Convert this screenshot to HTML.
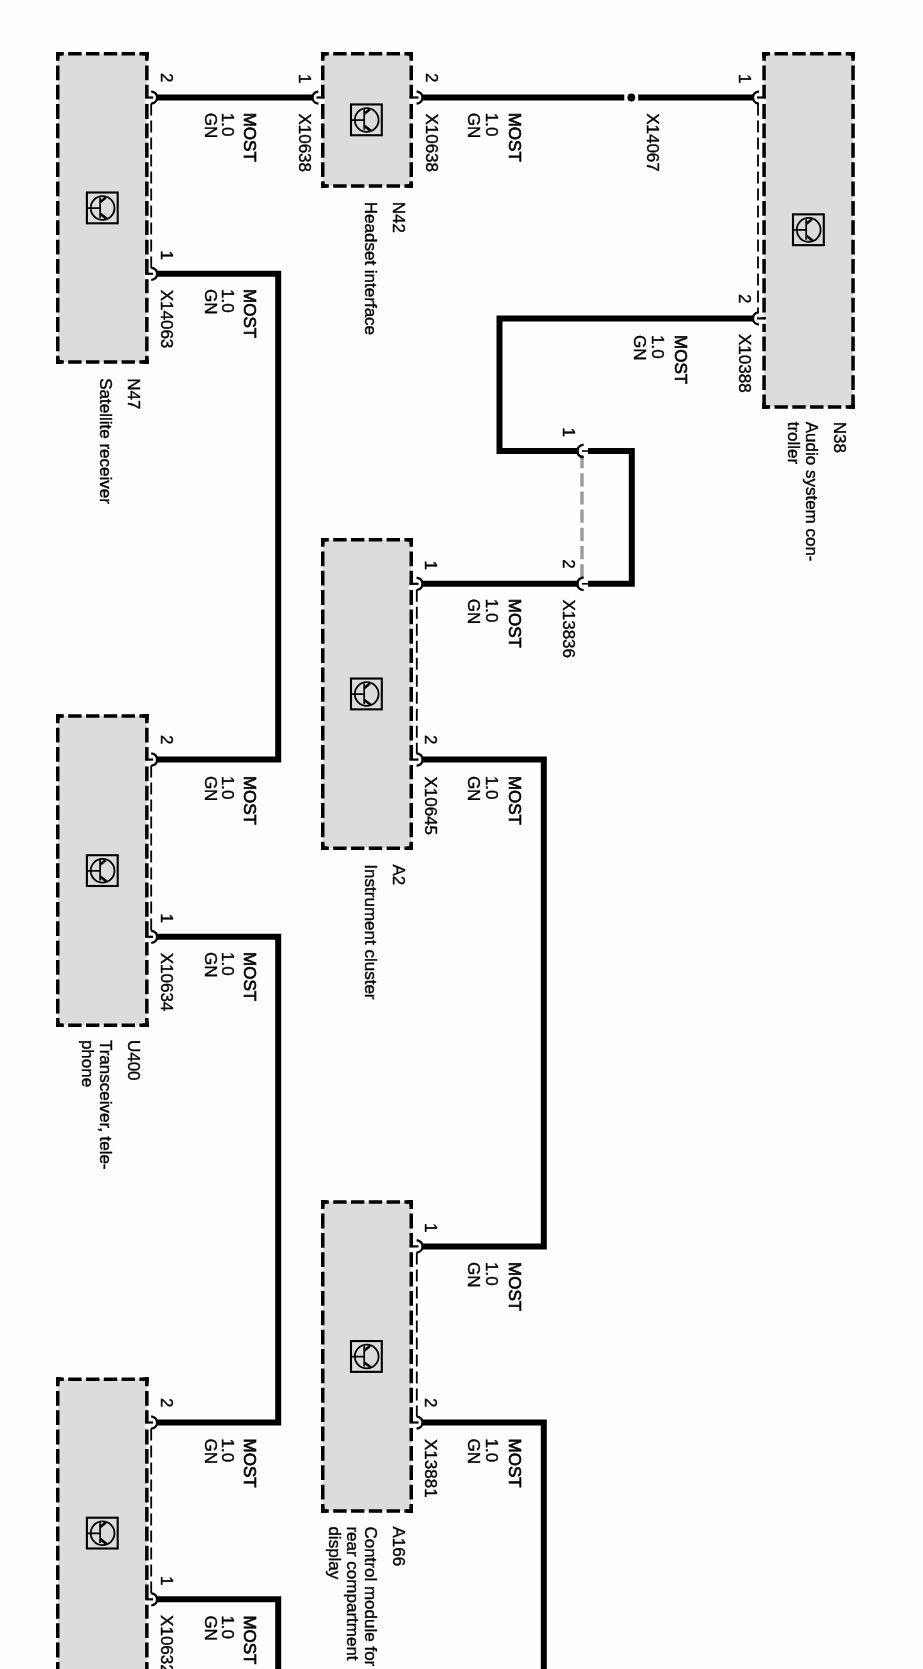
<!DOCTYPE html>
<html><head><meta charset="utf-8"><title>MOST bus wiring diagram</title>
<style>
html,body{margin:0;padding:0;background:#fefefe;}
body{width:923px;height:1669px;overflow:hidden;font-family:"Liberation Sans",sans-serif;}
svg{display:block;}
</style></head><body>
<svg width="923" height="1669" viewBox="0 0 923 1669">
<defs><filter id="soft" x="0" y="0" width="100%" height="100%" filterUnits="userSpaceOnUse"><feGaussianBlur stdDeviation="0.45"/></filter></defs>
<rect width="923" height="1669" fill="#fefefe"/>
<g filter="url(#soft)">
<rect x="57.75" y="53.75" width="89.1" height="308.3" fill="#dcdcdc"/>
<g stroke="#000" stroke-width="3.5" fill="none">
<line x1="57.75" y1="52" x2="57.75" y2="363.8" stroke-dasharray="14.8 4.56" stroke-dashoffset="5.96"/>
<line x1="146.85" y1="52" x2="146.85" y2="363.8" stroke-dasharray="14.8 4.56" stroke-dashoffset="5.96"/>
<line x1="56" y1="53.75" x2="148.6" y2="53.75" stroke-dasharray="13.4 4.4" stroke-dashoffset="5.6"/>
<line x1="56" y1="362.05" x2="148.6" y2="362.05" stroke-dasharray="13.4 4.4" stroke-dashoffset="5.6"/>
</g>
<g fill="#000">
<rect x="56" y="52" width="6" height="3.5"/>
<rect x="56" y="52" width="3.5" height="6"/>
<rect x="142.6" y="52" width="6" height="3.5"/>
<rect x="145.1" y="52" width="3.5" height="6"/>
<rect x="56" y="360.3" width="6" height="3.5"/>
<rect x="56" y="357.8" width="3.5" height="6"/>
<rect x="142.6" y="360.3" width="6" height="3.5"/>
<rect x="145.1" y="357.8" width="3.5" height="6"/>
</g>
<g stroke="#000" fill="none" stroke-linecap="butt">
<rect x="86.89999999999999" y="192.5" width="30.8" height="30.8" stroke-width="2.1"/>
<circle cx="102.6" cy="208.0" r="11.9" stroke-width="1.8"/>
<path d="M100.1 197.4V217.9M86.89999999999999 208.1H100.1" stroke-width="1.7"/>
<path d="M100.3 201.9L105.8 197.4M100.3 213.9L106.8 218.9" stroke-width="2.6"/>
</g>
<rect x="322.75" y="53.75" width="88.5" height="132.2" fill="#dcdcdc"/>
<g stroke="#000" stroke-width="3.5" fill="none">
<line x1="322.75" y1="52" x2="322.75" y2="187.7" stroke-dasharray="14.8 4.56" stroke-dashoffset="5.96"/>
<line x1="411.25" y1="52" x2="411.25" y2="187.7" stroke-dasharray="14.8 4.56" stroke-dashoffset="5.96"/>
<line x1="321" y1="53.75" x2="413" y2="53.75" stroke-dasharray="13.4 4.4" stroke-dashoffset="5.6"/>
<line x1="321" y1="185.95" x2="413" y2="185.95" stroke-dasharray="13.4 4.4" stroke-dashoffset="5.6"/>
</g>
<g fill="#000">
<rect x="321" y="52" width="6" height="3.5"/>
<rect x="321" y="52" width="3.5" height="6"/>
<rect x="407" y="52" width="6" height="3.5"/>
<rect x="409.5" y="52" width="3.5" height="6"/>
<rect x="321" y="184.2" width="6" height="3.5"/>
<rect x="321" y="181.7" width="3.5" height="6"/>
<rect x="407" y="184.2" width="6" height="3.5"/>
<rect x="409.5" y="181.7" width="3.5" height="6"/>
</g>
<g stroke="#000" fill="none" stroke-linecap="butt">
<rect x="351.0" y="104.44999999999999" width="30.8" height="30.8" stroke-width="2.1"/>
<circle cx="366.7" cy="119.94999999999999" r="11.9" stroke-width="1.8"/>
<path d="M364.2 109.35V129.85M351.0 120.05H364.2" stroke-width="1.7"/>
<path d="M364.4 113.85L369.9 109.35M364.4 125.85L370.9 130.85" stroke-width="2.6"/>
</g>
<rect x="764.05" y="53.75" width="89.0" height="353.2" fill="#dcdcdc"/>
<g stroke="#000" stroke-width="3.5" fill="none">
<line x1="764.05" y1="52" x2="764.05" y2="408.7" stroke-dasharray="14.8 4.56" stroke-dashoffset="5.96"/>
<line x1="853.05" y1="52" x2="853.05" y2="408.7" stroke-dasharray="14.8 4.56" stroke-dashoffset="5.96"/>
<line x1="762.3" y1="53.75" x2="854.8" y2="53.75" stroke-dasharray="13.4 4.4" stroke-dashoffset="5.6"/>
<line x1="762.3" y1="406.95" x2="854.8" y2="406.95" stroke-dasharray="13.4 4.4" stroke-dashoffset="5.6"/>
</g>
<g fill="#000">
<rect x="762.3" y="52" width="6" height="3.5"/>
<rect x="762.3" y="52" width="3.5" height="6"/>
<rect x="848.8" y="52" width="6" height="3.5"/>
<rect x="851.3" y="52" width="3.5" height="6"/>
<rect x="762.3" y="405.2" width="6" height="3.5"/>
<rect x="762.3" y="402.7" width="3.5" height="6"/>
<rect x="848.8" y="405.2" width="6" height="3.5"/>
<rect x="851.3" y="402.7" width="3.5" height="6"/>
</g>
<g stroke="#000" fill="none" stroke-linecap="butt">
<rect x="793.0" y="214.35" width="30.8" height="30.8" stroke-width="2.1"/>
<circle cx="808.6999999999999" cy="229.85" r="11.9" stroke-width="1.8"/>
<path d="M806.1999999999999 219.25V239.75M793.0 229.95H806.1999999999999" stroke-width="1.7"/>
<path d="M806.4 223.75L811.9 219.25M806.4 235.75L812.9 240.75" stroke-width="2.6"/>
</g>
<rect x="57.75" y="716.05" width="89.1" height="309.10000000000014" fill="#dcdcdc"/>
<g stroke="#000" stroke-width="3.5" fill="none">
<line x1="57.75" y1="714.3" x2="57.75" y2="1026.9" stroke-dasharray="14.8 4.56" stroke-dashoffset="5.96"/>
<line x1="146.85" y1="714.3" x2="146.85" y2="1026.9" stroke-dasharray="14.8 4.56" stroke-dashoffset="5.96"/>
<line x1="56" y1="716.05" x2="148.6" y2="716.05" stroke-dasharray="13.4 4.4" stroke-dashoffset="5.6"/>
<line x1="56" y1="1025.15" x2="148.6" y2="1025.15" stroke-dasharray="13.4 4.4" stroke-dashoffset="5.6"/>
</g>
<g fill="#000">
<rect x="56" y="714.3" width="6" height="3.5"/>
<rect x="56" y="714.3" width="3.5" height="6"/>
<rect x="142.6" y="714.3" width="6" height="3.5"/>
<rect x="145.1" y="714.3" width="3.5" height="6"/>
<rect x="56" y="1023.4000000000001" width="6" height="3.5"/>
<rect x="56" y="1020.9000000000001" width="3.5" height="6"/>
<rect x="142.6" y="1023.4000000000001" width="6" height="3.5"/>
<rect x="145.1" y="1020.9000000000001" width="3.5" height="6"/>
</g>
<g stroke="#000" fill="none" stroke-linecap="butt">
<rect x="86.89999999999999" y="855.2" width="30.8" height="30.8" stroke-width="2.1"/>
<circle cx="102.6" cy="870.7" r="11.9" stroke-width="1.8"/>
<path d="M100.1 860.1V880.6M86.89999999999999 870.8000000000001H100.1" stroke-width="1.7"/>
<path d="M100.3 864.6L105.8 860.1M100.3 876.6L106.8 881.6" stroke-width="2.6"/>
</g>
<rect x="322.75" y="539.75" width="88.5" height="308.4" fill="#dcdcdc"/>
<g stroke="#000" stroke-width="3.5" fill="none">
<line x1="322.75" y1="538" x2="322.75" y2="849.9" stroke-dasharray="14.8 4.56" stroke-dashoffset="5.96"/>
<line x1="411.25" y1="538" x2="411.25" y2="849.9" stroke-dasharray="14.8 4.56" stroke-dashoffset="5.96"/>
<line x1="321" y1="539.75" x2="413" y2="539.75" stroke-dasharray="13.4 4.4" stroke-dashoffset="5.6"/>
<line x1="321" y1="848.15" x2="413" y2="848.15" stroke-dasharray="13.4 4.4" stroke-dashoffset="5.6"/>
</g>
<g fill="#000">
<rect x="321" y="538" width="6" height="3.5"/>
<rect x="321" y="538" width="3.5" height="6"/>
<rect x="407" y="538" width="6" height="3.5"/>
<rect x="409.5" y="538" width="3.5" height="6"/>
<rect x="321" y="846.4" width="6" height="3.5"/>
<rect x="321" y="843.9" width="3.5" height="6"/>
<rect x="407" y="846.4" width="6" height="3.5"/>
<rect x="409.5" y="843.9" width="3.5" height="6"/>
</g>
<g stroke="#000" fill="none" stroke-linecap="butt">
<rect x="351.0" y="678.5500000000001" width="30.8" height="30.8" stroke-width="2.1"/>
<circle cx="366.7" cy="694.0500000000001" r="11.9" stroke-width="1.8"/>
<path d="M364.2 683.45V703.95M351.0 694.1500000000001H364.2" stroke-width="1.7"/>
<path d="M364.4 687.95L369.9 683.45M364.4 699.95L370.9 704.95" stroke-width="2.6"/>
</g>
<rect x="322.75" y="1201.95" width="88.5" height="309.0" fill="#dcdcdc"/>
<g stroke="#000" stroke-width="3.5" fill="none">
<line x1="322.75" y1="1200.2" x2="322.75" y2="1512.7" stroke-dasharray="14.8 4.56" stroke-dashoffset="5.96"/>
<line x1="411.25" y1="1200.2" x2="411.25" y2="1512.7" stroke-dasharray="14.8 4.56" stroke-dashoffset="5.96"/>
<line x1="321" y1="1201.95" x2="413" y2="1201.95" stroke-dasharray="13.4 4.4" stroke-dashoffset="5.6"/>
<line x1="321" y1="1510.95" x2="413" y2="1510.95" stroke-dasharray="13.4 4.4" stroke-dashoffset="5.6"/>
</g>
<g fill="#000">
<rect x="321" y="1200.2" width="6" height="3.5"/>
<rect x="321" y="1200.2" width="3.5" height="6"/>
<rect x="407" y="1200.2" width="6" height="3.5"/>
<rect x="409.5" y="1200.2" width="3.5" height="6"/>
<rect x="321" y="1509.2" width="6" height="3.5"/>
<rect x="321" y="1506.7" width="3.5" height="6"/>
<rect x="407" y="1509.2" width="6" height="3.5"/>
<rect x="409.5" y="1506.7" width="3.5" height="6"/>
</g>
<g stroke="#000" fill="none" stroke-linecap="butt">
<rect x="351.0" y="1341.05" width="30.8" height="30.8" stroke-width="2.1"/>
<circle cx="366.7" cy="1356.55" r="11.9" stroke-width="1.8"/>
<path d="M364.2 1345.95V1366.45M351.0 1356.65H364.2" stroke-width="1.7"/>
<path d="M364.4 1350.45L369.9 1345.95M364.4 1362.45L370.9 1367.45" stroke-width="2.6"/>
</g>
<rect x="57.75" y="1379.25" width="89.1" height="307.70000000000005" fill="#dcdcdc"/>
<g stroke="#000" stroke-width="3.5" fill="none">
<line x1="57.75" y1="1377.5" x2="57.75" y2="1688.7" stroke-dasharray="14.8 4.56" stroke-dashoffset="5.96"/>
<line x1="146.85" y1="1377.5" x2="146.85" y2="1688.7" stroke-dasharray="14.8 4.56" stroke-dashoffset="5.96"/>
<line x1="56" y1="1379.25" x2="148.6" y2="1379.25" stroke-dasharray="13.4 4.4" stroke-dashoffset="5.6"/>
<line x1="56" y1="1686.95" x2="148.6" y2="1686.95" stroke-dasharray="13.4 4.4" stroke-dashoffset="5.6"/>
</g>
<g fill="#000">
<rect x="56" y="1377.5" width="6" height="3.5"/>
<rect x="56" y="1377.5" width="3.5" height="6"/>
<rect x="142.6" y="1377.5" width="6" height="3.5"/>
<rect x="145.1" y="1377.5" width="3.5" height="6"/>
<rect x="56" y="1685.2" width="6" height="3.5"/>
<rect x="56" y="1682.7" width="3.5" height="6"/>
<rect x="142.6" y="1685.2" width="6" height="3.5"/>
<rect x="145.1" y="1682.7" width="3.5" height="6"/>
</g>
<g stroke="#000" fill="none" stroke-linecap="butt">
<rect x="86.89999999999999" y="1517.6999999999998" width="30.8" height="30.8" stroke-width="2.1"/>
<circle cx="102.6" cy="1533.1999999999998" r="11.9" stroke-width="1.8"/>
<path d="M100.1 1522.6V1543.1M86.89999999999999 1533.3H100.1" stroke-width="1.7"/>
<path d="M100.3 1527.1L105.8 1522.6M100.3 1539.1L106.8 1544.1" stroke-width="2.6"/>
</g>
<path d="M157 97.5H313" stroke="#000" stroke-width="6.0" fill="none" stroke-linejoin="miter"/>
<path d="M422 97.5H624.3" stroke="#000" stroke-width="6.0" fill="none" stroke-linejoin="miter"/>
<path d="M638.2 97.5H753.2" stroke="#000" stroke-width="6.0" fill="none" stroke-linejoin="miter"/>
<circle cx="631.3" cy="97.5" r="3.9" fill="#000"/>
<path d="M753.2 318.4H499.5V451H577.4" stroke="#000" stroke-width="6.0" fill="none" stroke-linejoin="miter"/>
<path d="M588 451H631.8V583.8H588" stroke="#000" stroke-width="6.0" fill="none" stroke-linejoin="miter"/>
<path d="M577.4 583.8H422" stroke="#000" stroke-width="6.0" fill="none" stroke-linejoin="miter"/>
<path d="M422 759.6H543.8V1246.4H422" stroke="#000" stroke-width="6.0" fill="none" stroke-linejoin="miter"/>
<path d="M422 1422.5H543.8V1700" stroke="#000" stroke-width="6.0" fill="none" stroke-linejoin="miter"/>
<path d="M157 273.8H278.2V759.6H157" stroke="#000" stroke-width="6.0" fill="none" stroke-linejoin="miter"/>
<path d="M157 936.8H278.2V1422.5H157" stroke="#000" stroke-width="6.0" fill="none" stroke-linejoin="miter"/>
<path d="M157 1599.3H278.2V1700" stroke="#000" stroke-width="6.0" fill="none" stroke-linejoin="miter"/>
<line x1="582" y1="455" x2="582" y2="579" stroke="#9a9a9a" stroke-width="3.4" stroke-dasharray="13.2 5"/>
<rect x="144.79999999999998" y="98.3" width="4.1" height="4.6" fill="#fff"/>
<path d="M145.1 97.5H153.1" stroke="#000" stroke-width="2.2" fill="none"/>
<path d="M151.2 91.3Q157.2 92.3 157.0 97.5Q157.2 102.7 151.2 103.7" stroke="#000" stroke-width="2.2" fill="none"/>
<rect x="144.79999999999998" y="274.6" width="4.1" height="4.6" fill="#fff"/>
<path d="M145.1 273.8H153.1" stroke="#000" stroke-width="2.2" fill="none"/>
<path d="M151.2 267.6Q157.2 268.6 157.0 273.8Q157.2 279.0 151.2 280.0" stroke="#000" stroke-width="2.2" fill="none"/>
<line x1="151.2" y1="103.5" x2="151.2" y2="267.8" stroke="#000" stroke-width="1.8" stroke-dasharray="12 5"/>
<rect x="144.79999999999998" y="760.4" width="4.1" height="4.6" fill="#fff"/>
<path d="M145.1 759.6H153.1" stroke="#000" stroke-width="2.2" fill="none"/>
<path d="M151.2 753.4Q157.2 754.4 157.0 759.6Q157.2 764.8000000000001 151.2 765.8000000000001" stroke="#000" stroke-width="2.2" fill="none"/>
<rect x="144.79999999999998" y="937.5999999999999" width="4.1" height="4.6" fill="#fff"/>
<path d="M145.1 936.8H153.1" stroke="#000" stroke-width="2.2" fill="none"/>
<path d="M151.2 930.5999999999999Q157.2 931.5999999999999 157.0 936.8Q157.2 942.0 151.2 943.0" stroke="#000" stroke-width="2.2" fill="none"/>
<line x1="151.2" y1="765.6" x2="151.2" y2="930.8" stroke="#000" stroke-width="1.8" stroke-dasharray="12 5"/>
<rect x="144.79999999999998" y="1423.3" width="4.1" height="4.6" fill="#fff"/>
<path d="M145.1 1422.5H153.1" stroke="#000" stroke-width="2.2" fill="none"/>
<path d="M151.2 1416.3Q157.2 1417.3 157.0 1422.5Q157.2 1427.7 151.2 1428.7" stroke="#000" stroke-width="2.2" fill="none"/>
<rect x="144.79999999999998" y="1600.1" width="4.1" height="4.6" fill="#fff"/>
<path d="M145.1 1599.3H153.1" stroke="#000" stroke-width="2.2" fill="none"/>
<path d="M151.2 1593.1Q157.2 1594.1 157.0 1599.3Q157.2 1604.5 151.2 1605.5" stroke="#000" stroke-width="2.2" fill="none"/>
<line x1="151.2" y1="1428.5" x2="151.2" y2="1593.3" stroke="#000" stroke-width="1.8" stroke-dasharray="12 5"/>
<rect x="409.2" y="584.5999999999999" width="4.1" height="4.6" fill="#fff"/>
<path d="M409.5 583.8H418.5" stroke="#000" stroke-width="2.2" fill="none"/>
<path d="M416.6 577.5999999999999Q422.6 578.5999999999999 422.4 583.8Q422.6 589.0 416.6 590.0" stroke="#000" stroke-width="2.2" fill="none"/>
<rect x="409.2" y="760.4" width="4.1" height="4.6" fill="#fff"/>
<path d="M409.5 759.6H418.5" stroke="#000" stroke-width="2.2" fill="none"/>
<path d="M416.6 753.4Q422.6 754.4 422.4 759.6Q422.6 764.8000000000001 416.6 765.8000000000001" stroke="#000" stroke-width="2.2" fill="none"/>
<line x1="416.8" y1="589.8" x2="416.8" y2="753.6" stroke="#000" stroke-width="1.8" stroke-dasharray="12 5"/>
<rect x="409.2" y="1247.2" width="4.1" height="4.6" fill="#fff"/>
<path d="M409.5 1246.4H418.5" stroke="#000" stroke-width="2.2" fill="none"/>
<path d="M416.6 1240.2Q422.6 1241.2 422.4 1246.4Q422.6 1251.6000000000001 416.6 1252.6000000000001" stroke="#000" stroke-width="2.2" fill="none"/>
<rect x="409.2" y="1423.3" width="4.1" height="4.6" fill="#fff"/>
<path d="M409.5 1422.5H418.5" stroke="#000" stroke-width="2.2" fill="none"/>
<path d="M416.6 1416.3Q422.6 1417.3 422.4 1422.5Q422.6 1427.7 416.6 1428.7" stroke="#000" stroke-width="2.2" fill="none"/>
<line x1="416.8" y1="1252.4" x2="416.8" y2="1416.5" stroke="#000" stroke-width="1.8" stroke-dasharray="12 5"/>
<rect x="409.2" y="98.3" width="4.1" height="4.6" fill="#fff"/>
<path d="M409.5 97.5H418.5" stroke="#000" stroke-width="2.2" fill="none"/>
<path d="M416.6 91.3Q422.6 92.3 422.4 97.5Q422.6 102.7 416.6 103.7" stroke="#000" stroke-width="2.2" fill="none"/>
<rect x="320.7" y="98.3" width="4.1" height="4.6" fill="#fff"/>
<path d="M324.5 97.5H316.5" stroke="#000" stroke-width="2.2" fill="none"/>
<path d="M318.4 91.3Q312.4 92.3 312.6 97.5Q312.4 102.7 318.4 103.7" stroke="#000" stroke-width="2.2" fill="none"/>
<rect x="762.0" y="98.3" width="4.1" height="4.6" fill="#fff"/>
<path d="M765.8 97.5H757.0" stroke="#000" stroke-width="2.2" fill="none"/>
<path d="M758.9 91.3Q752.9 92.3 753.1 97.5Q752.9 102.7 758.9 103.7" stroke="#000" stroke-width="2.2" fill="none"/>
<rect x="762.0" y="319.2" width="4.1" height="4.6" fill="#fff"/>
<path d="M765.8 318.4H757.0" stroke="#000" stroke-width="2.2" fill="none"/>
<path d="M758.9 312.2Q752.9 313.2 753.1 318.4Q752.9 323.59999999999997 758.9 324.59999999999997" stroke="#000" stroke-width="2.2" fill="none"/>
<line x1="758.0" y1="103.5" x2="758.0" y2="312.4" stroke="#000" stroke-width="1.8" stroke-dasharray="12 5"/>
<path d="M583.6 444.6Q577.2 445.6 577.6 451Q577.2 456.4 583.6 457.4" stroke="#000" stroke-width="2.3" fill="none"/>
<path d="M582 451H589" stroke="#000" stroke-width="1.6" fill="none"/>
<path d="M583.6 577.4Q577.2 578.4 577.6 583.8Q577.2 589.1999999999999 583.6 590.1999999999999" stroke="#000" stroke-width="2.3" fill="none"/>
<path d="M582 583.8H589" stroke="#000" stroke-width="1.6" fill="none"/>
<g font-family="Liberation Sans, sans-serif" font-size="17" fill="#000" stroke="#000" stroke-width="0.4">
<text transform="translate(243.6 112.7) rotate(90)" stroke-width="0.65">MOST</text>
<text transform="translate(222.4 112.7) rotate(90)">1.0</text>
<text transform="translate(204.5 112.7) rotate(90)">GN</text>
<text transform="translate(243.6 289.1) rotate(90)" stroke-width="0.65">MOST</text>
<text transform="translate(222.4 289.1) rotate(90)">1.0</text>
<text transform="translate(204.5 289.1) rotate(90)">GN</text>
<text transform="translate(508.6 112.7) rotate(90)" stroke-width="0.65">MOST</text>
<text transform="translate(486.0 112.7) rotate(90)">1.0</text>
<text transform="translate(468.40000000000003 112.7) rotate(90)">GN</text>
<text transform="translate(674.6 335.1) rotate(90)" stroke-width="0.65">MOST</text>
<text transform="translate(652.0 335.1) rotate(90)">1.0</text>
<text transform="translate(634.4 335.1) rotate(90)">GN</text>
<text transform="translate(508.6 598.8) rotate(90)" stroke-width="0.65">MOST</text>
<text transform="translate(486.0 598.8) rotate(90)">1.0</text>
<text transform="translate(468.40000000000003 598.8) rotate(90)">GN</text>
<text transform="translate(508.6 775.9) rotate(90)" stroke-width="0.65">MOST</text>
<text transform="translate(486.0 775.9) rotate(90)">1.0</text>
<text transform="translate(468.40000000000003 775.9) rotate(90)">GN</text>
<text transform="translate(243.6 775.9) rotate(90)" stroke-width="0.65">MOST</text>
<text transform="translate(222.4 775.9) rotate(90)">1.0</text>
<text transform="translate(204.5 775.9) rotate(90)">GN</text>
<text transform="translate(243.6 952.0999999999999) rotate(90)" stroke-width="0.65">MOST</text>
<text transform="translate(222.4 952.0999999999999) rotate(90)">1.0</text>
<text transform="translate(204.5 952.0999999999999) rotate(90)">GN</text>
<text transform="translate(508.6 1262.1) rotate(90)" stroke-width="0.65">MOST</text>
<text transform="translate(486.0 1262.1) rotate(90)">1.0</text>
<text transform="translate(468.40000000000003 1262.1) rotate(90)">GN</text>
<text transform="translate(508.6 1438.6) rotate(90)" stroke-width="0.65">MOST</text>
<text transform="translate(486.0 1438.6) rotate(90)">1.0</text>
<text transform="translate(468.40000000000003 1438.6) rotate(90)">GN</text>
<text transform="translate(243.6 1438.6) rotate(90)" stroke-width="0.65">MOST</text>
<text transform="translate(222.4 1438.6) rotate(90)">1.0</text>
<text transform="translate(204.5 1438.6) rotate(90)">GN</text>
<text transform="translate(243.6 1615.3999999999999) rotate(90)" stroke-width="0.65">MOST</text>
<text transform="translate(222.4 1615.3999999999999) rotate(90)">1.0</text>
<text transform="translate(204.5 1615.3999999999999) rotate(90)">GN</text>
<text transform="translate(299 113.4) rotate(90)">X10638</text>
<text transform="translate(426.2 113.4) rotate(90)">X10638</text>
<text transform="translate(646.5 113.15) rotate(90)">X14067</text>
<text transform="translate(739.2 334.0) rotate(90)">X10388</text>
<text transform="translate(160.6 289.7) rotate(90)">X14063</text>
<text transform="translate(563 599.4) rotate(90)">X13836</text>
<text transform="translate(424.8 776.4) rotate(90)">X10645</text>
<text transform="translate(160.6 952.6999999999999) rotate(90)">X10634</text>
<text transform="translate(424.6 1439.0) rotate(90)">X13881</text>
<text transform="translate(160.6 1615.1000000000001) rotate(90)">X10632</text>
<text transform="translate(160.8 73.0) rotate(90)">2</text>
<text transform="translate(160.8 250.4) rotate(90)">1</text>
<text transform="translate(299 74.1) rotate(90)">1</text>
<text transform="translate(426.2 73.0) rotate(90)">2</text>
<text transform="translate(739.2 74.1) rotate(90)">1</text>
<text transform="translate(739.2 293.9) rotate(90)">2</text>
<text transform="translate(563 427.6) rotate(90)">1</text>
<text transform="translate(563 559.3) rotate(90)">2</text>
<text transform="translate(424.8 560.4) rotate(90)">1</text>
<text transform="translate(424.8 735.1) rotate(90)">2</text>
<text transform="translate(160.8 735.1) rotate(90)">2</text>
<text transform="translate(160.8 913.4) rotate(90)">1</text>
<text transform="translate(424.8 1223.0) rotate(90)">1</text>
<text transform="translate(424.8 1398.0) rotate(90)">2</text>
<text transform="translate(160.8 1398.0) rotate(90)">2</text>
<text transform="translate(160.8 1575.8999999999999) rotate(90)">1</text>
<text transform="translate(127.8 378.2) rotate(90)">N47</text>
<text transform="translate(99.8 378.2) rotate(90)">Satellite receiver</text>
<text transform="translate(393 201.8) rotate(90)">N42</text>
<text transform="translate(365 201.8) rotate(90)">Headset interface</text>
<text transform="translate(833.7 421.7) rotate(90)">N38</text>
<text transform="translate(805.7 421.7) rotate(90)">Audio system con-</text>
<text transform="translate(788.3 421.7) rotate(90)">troller</text>
<text transform="translate(127.8 1039.9) rotate(90)">U400</text>
<text transform="translate(99.8 1039.9) rotate(90)">Transceiver, tele-</text>
<text transform="translate(82.4 1039.9) rotate(90)">phone</text>
<text transform="translate(393 864.4) rotate(90)">A2</text>
<text transform="translate(365 864.4) rotate(90)">Instrument cluster</text>
<text transform="translate(393 1526.4) rotate(90)">A166</text>
<text transform="translate(365 1526.4) rotate(90)">Control module for</text>
<text transform="translate(347 1526.4) rotate(90)">rear compartment</text>
<text transform="translate(329.3 1526.4) rotate(90)">display</text>
</g>
</g>
</svg>
</body></html>
